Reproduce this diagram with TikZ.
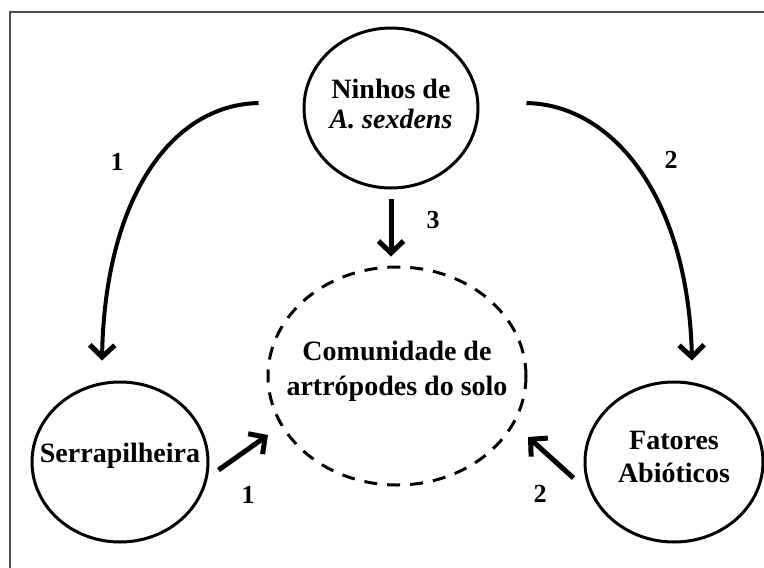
\documentclass[tikz,border=0pt]{standalone}
\usepackage{fontspec}
\setmainfont{Liberation Serif}
\usetikzlibrary{shapes.geometric,arrows.meta,calc}
\newcommand{\blobtext}[3]{\smash{\makebox[0pt]{\raisebox{#2}{\fontsize{28}{#1}\selectfont\bfseries\begin{tabular}{@{}c@{}}#3\end{tabular}}}}}
\begin{document}
\begin{tikzpicture}[x=1pt,y=-1pt,
  blob/.style={ellipse,draw=black,line width=3pt,inner sep=0pt},
  dblob/.style={blob,dash pattern=on 13pt off 10pt},
  tip/.style={-{Straight Barb[length=12pt,width=25pt,line width=5pt]}},
  arr/.style={line width=5pt,tip},
  bigarr/.style={line width=4pt,tip},
  lbl/.style={font=\fontsize{26}{30}\selectfont\bfseries,inner sep=0pt}]
\useasboundingbox (0,0) rectangle (764,568);
\draw[color=black!70,line width=1.5pt] (10,600) -- (10,12) -- (800,12);
\node[blob,minimum width=174pt,minimum height=160pt] (nin) at (391,108)
  {\blobtext{30pt}{-6pt}{Ninhos de\\\textit{A. sexdens}}};
\node[dblob,minimum width=258pt,minimum height=218pt] (com) at (397,376)
  {\blobtext{35pt}{-1pt}{Comunidade de\\artrópodes do solo}};
\node[blob,minimum width=176pt,minimum height=160pt] (ser) at (120,462)
  {\blobtext{33pt}{0pt}{Serrapilheira}};
\node[blob,minimum width=178pt,minimum height=160pt] (fat) at (674,462)
  {\blobtext{33pt}{-4pt}{Fatores\\Abióticos}};
\draw[bigarr] ($(nin.west)+(-44,-5)$) .. controls (170,105) and (105,200) .. ($(ser.north)+(-18,-20)$);
\draw[bigarr] ($(nin.east)+(47,-5)$) .. controls (615,105) and (688,200) .. ($(fat.north)+(18,-20)$);
\draw[arr] ($(nin.south)+(0,9)$) -- ($(nin.south |- com.north)+(0,-9)$);
\draw[arr] ($(ser.east)+(9,8)$) -- ($(com.center)+(-129,59)$);
\draw[arr] ($(fat.west)+(-10,16)$) -- ($(com.center)+(131,61)$);
\node[lbl] (l1) at (117,162) {1};
\node[lbl] (l2) at (671,160) {2};
\node[lbl] (l3) at (433,220) {3};
\node[lbl] (l4) at (248,495) {1};
\node[lbl] (l5) at (540,494) {2};
\end{tikzpicture}
\end{document}
